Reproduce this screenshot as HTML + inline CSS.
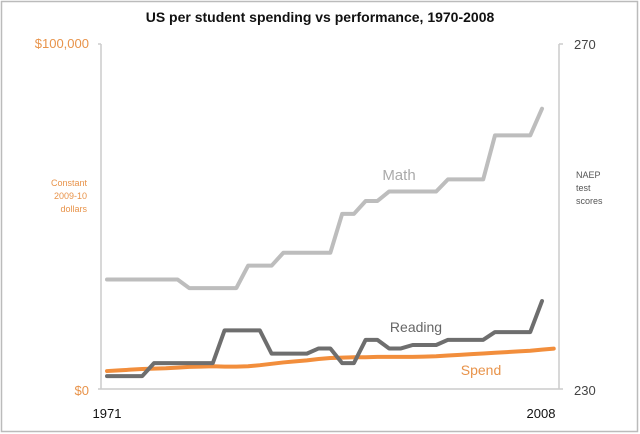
<!DOCTYPE html>
<html><head><meta charset="utf-8"><style>
html,body{margin:0;padding:0;background:#fff;}
svg{display:block;font-family:"Liberation Sans",sans-serif;}
</style></head><body>
<svg id="chart" width="640" height="434" viewBox="0 0 640 434" xmlns="http://www.w3.org/2000/svg">
<rect x="1.5" y="1.5" width="636" height="430" fill="#fff" stroke="#bbb" stroke-width="1.5"/>
<text x="320" y="22" text-anchor="middle" font-size="14" font-weight="bold" fill="#111">US per student spending vs performance, 1970-2008</text>
<line x1="101" y1="44" x2="101" y2="389" stroke="#ccc" stroke-width="1.5"/>
<line x1="98" y1="44" x2="101" y2="44" stroke="#ccc" stroke-width="1.5"/>
<line x1="559" y1="44" x2="559" y2="389" stroke="#ccc" stroke-width="1.5"/>
<line x1="559" y1="44" x2="563" y2="44" stroke="#ccc" stroke-width="1.5"/>
<line x1="98" y1="389" x2="563" y2="389" stroke="#ccc" stroke-width="1.5"/>
<text x="89" y="48" text-anchor="end" font-size="13" fill="#e8934a">$100,000</text>
<text x="89" y="395" text-anchor="end" font-size="13" fill="#e8934a">$0</text>
<text x="574" y="49" font-size="13" fill="#444">270</text>
<text x="574" y="395" font-size="13" fill="#444">230</text>
<g font-size="9" fill="#e8934a" text-anchor="end">
<text x="87" y="186">Constant</text><text x="87" y="199">2009-10</text><text x="87" y="212">dollars</text></g>
<g font-size="9" fill="#555">
<text x="576" y="178">NAEP</text><text x="576" y="191">test</text><text x="576" y="204">scores</text></g>
<text x="107" y="418" text-anchor="middle" font-size="13" fill="#111">1971</text>
<text x="541" y="418" text-anchor="middle" font-size="13" fill="#111">2008</text>
<g id="marks"></g>
<text x="399" y="180" text-anchor="middle" font-size="15" fill="#aaa">Math</text>
<text x="416" y="332" text-anchor="middle" font-size="14" fill="#666">Reading</text>
<text x="481" y="375" text-anchor="middle" font-size="14" fill="#e8934a">Spend</text>
</svg>
<script>
const years = [];
for (let y = 1971; y <= 2009; y++) years.push(y);
const mathScores = [242.7,242.7,242.7,242.7,242.7,242.7,242.7,241.7,241.7,241.7,241.7,241.7,244.3,244.3,244.3,245.8,245.8,245.8,245.8,245.8,250.3,250.3,251.8,251.8,252.9,252.9,252.9,252.9,252.9,254.3,254.3,254.3,254.3,259.4,259.4,259.4,259.4,262.5];
const readingScores = [231.5,231.5,231.5,231.5,233.0,233.0,233.0,233.0,233.0,233.0,236.8,236.8,236.8,236.8,234.1,234.1,234.1,234.1,234.7,234.7,233.0,233.0,235.7,235.7,234.7,234.7,235.1,235.1,235.1,235.7,235.7,235.7,235.7,236.6,236.6,236.6,236.6,240.2];
const spendDollars = [5200,5400,5600,5800,5900,6000,6200,6400,6500,6600,6500,6500,6600,6900,7300,7700,8000,8300,8700,9000,9100,9200,9200,9300,9300,9300,9300,9400,9500,9700,9900,10100,10300,10500,10700,10900,11100,11400,11700];
const x = yr => 107 + (yr - 1971) * (542 - 107) / (2008 - 1971);
const yScore = s => 389 - (s - 230) * (389 - 44) / 40;
const yDollar = d => 389 - d * (389 - 44) / 100000;
const g = document.getElementById('marks');
function line(vals, yf, color, w, name) {
  const p = document.createElementNS('http://www.w3.org/2000/svg', 'polyline');
  p.setAttribute('points', vals.map((v, i) => x(years[i]) + ',' + yf(v)).join(' '));
  p.setAttribute('fill', 'none');
  p.setAttribute('stroke', color);
  p.setAttribute('stroke-width', w);
  p.setAttribute('stroke-linejoin', 'round');
  p.setAttribute('stroke-linecap', 'round');
  
  
  g.appendChild(p);
}
line(spendDollars, yDollar, '#f28e3c', 4, 'spend-line');
line(mathScores, yScore, '#bdbdbd', 4, 'math-line');
line(readingScores, yScore, '#6e6e6e', 4, 'reading-line');
</script>
</body></html>
